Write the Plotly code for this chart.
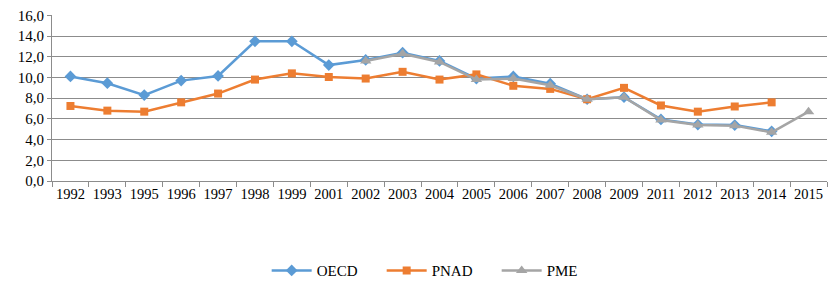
import plotly.graph_objects as go

years = ["1992", "1993", "1995", "1996", "1997", "1998", "1999", "2001", "2002", "2003",
         "2004", "2005", "2006", "2007", "2008", "2009", "2011", "2012", "2013", "2014", "2015"]

oecd = [10.1, 9.45, 8.3, 9.7, 10.15, 13.5, 13.5, 11.2, 11.7, 12.4,
        11.6, 9.9, 10.1, 9.4, 7.9, 8.1, 5.95, 5.45, 5.4, 4.8, None]
pnad = [7.25, 6.8, 6.7, 7.6, 8.45, 9.8, 10.4, 10.05, 9.9, 10.55,
        9.8, 10.3, 9.2, 8.9, 7.9, 9.0, 7.3, 6.7, 7.2, 7.6, None]
pme = [None, None, None, None, None, None, None, None, 11.6, 12.3,
       11.5, 9.8, 9.9, 9.25, 7.9, 8.1, 5.9, 5.4, 5.35, 4.7, 6.7]

y_ticks = [0, 2, 4, 6, 8, 10, 12, 14, 16]

font_family = "'Liberation Serif', 'Times New Roman', serif"

fig = go.Figure()
fig.add_trace(go.Scatter(x=years, y=oecd, name="OECD", mode="lines+markers",
                         line=dict(color="#5B9BD5", width=2.5),
                         marker=dict(symbol="diamond", size=9, color="#5B9BD5")))
fig.add_trace(go.Scatter(x=years, y=pnad, name="PNAD", mode="lines+markers",
                         line=dict(color="#ED7D31", width=2.5),
                         marker=dict(symbol="square", size=8, color="#ED7D31")))
fig.add_trace(go.Scatter(x=years, y=pme, name="PME", mode="lines+markers",
                         line=dict(color="#A5A5A5", width=2.5),
                         marker=dict(symbol="triangle-up", size=10, color="#A5A5A5")))

fig.update_layout(
    width=835, height=283,
    margin=dict(l=52, r=8, t=15, b=102, autoexpand=False),
    paper_bgcolor="white", plot_bgcolor="white",
    separators=",.",
    font=dict(family=font_family, size=14, color="#000000"),
    showlegend=True,
    legend=dict(orientation="h", x=0.277, xanchor="left", y=-0.54, yanchor="middle",
                font=dict(family=font_family, size=15), itemwidth=40,
                entrywidth=60, entrywidthmode="pixels", tracegroupgap=0),
    xaxis=dict(type="category", categoryorder="array", categoryarray=years,
               showline=True, linecolor="#8c8c8c", linewidth=1, automargin=False,
               ticks="outside", tickson="boundaries", ticklen=5, tickcolor="#8c8c8c",
               showgrid=False, tickangle=0, tickfont=dict(family=font_family, size=14.5),
               range=[-0.5, len(years) - 0.5]),
    yaxis=dict(range=[0, 16.04], tickvals=y_ticks, tickformat=".1f", automargin=False,
               showline=True, linecolor="#8c8c8c", linewidth=1,
               ticks="outside", ticklen=4, tickcolor="#8c8c8c",
               showgrid=True, gridcolor="#8c8c8c", gridwidth=1,
               zeroline=False, tickfont=dict(family=font_family, size=15)),
)

# remove the default 8px page margin so the figure sits at the window origin
fig.write_html("out.html",
               config={"displayModeBar": False},
               post_script="document.body.style.margin='0';document.body.style.padding='0';")
